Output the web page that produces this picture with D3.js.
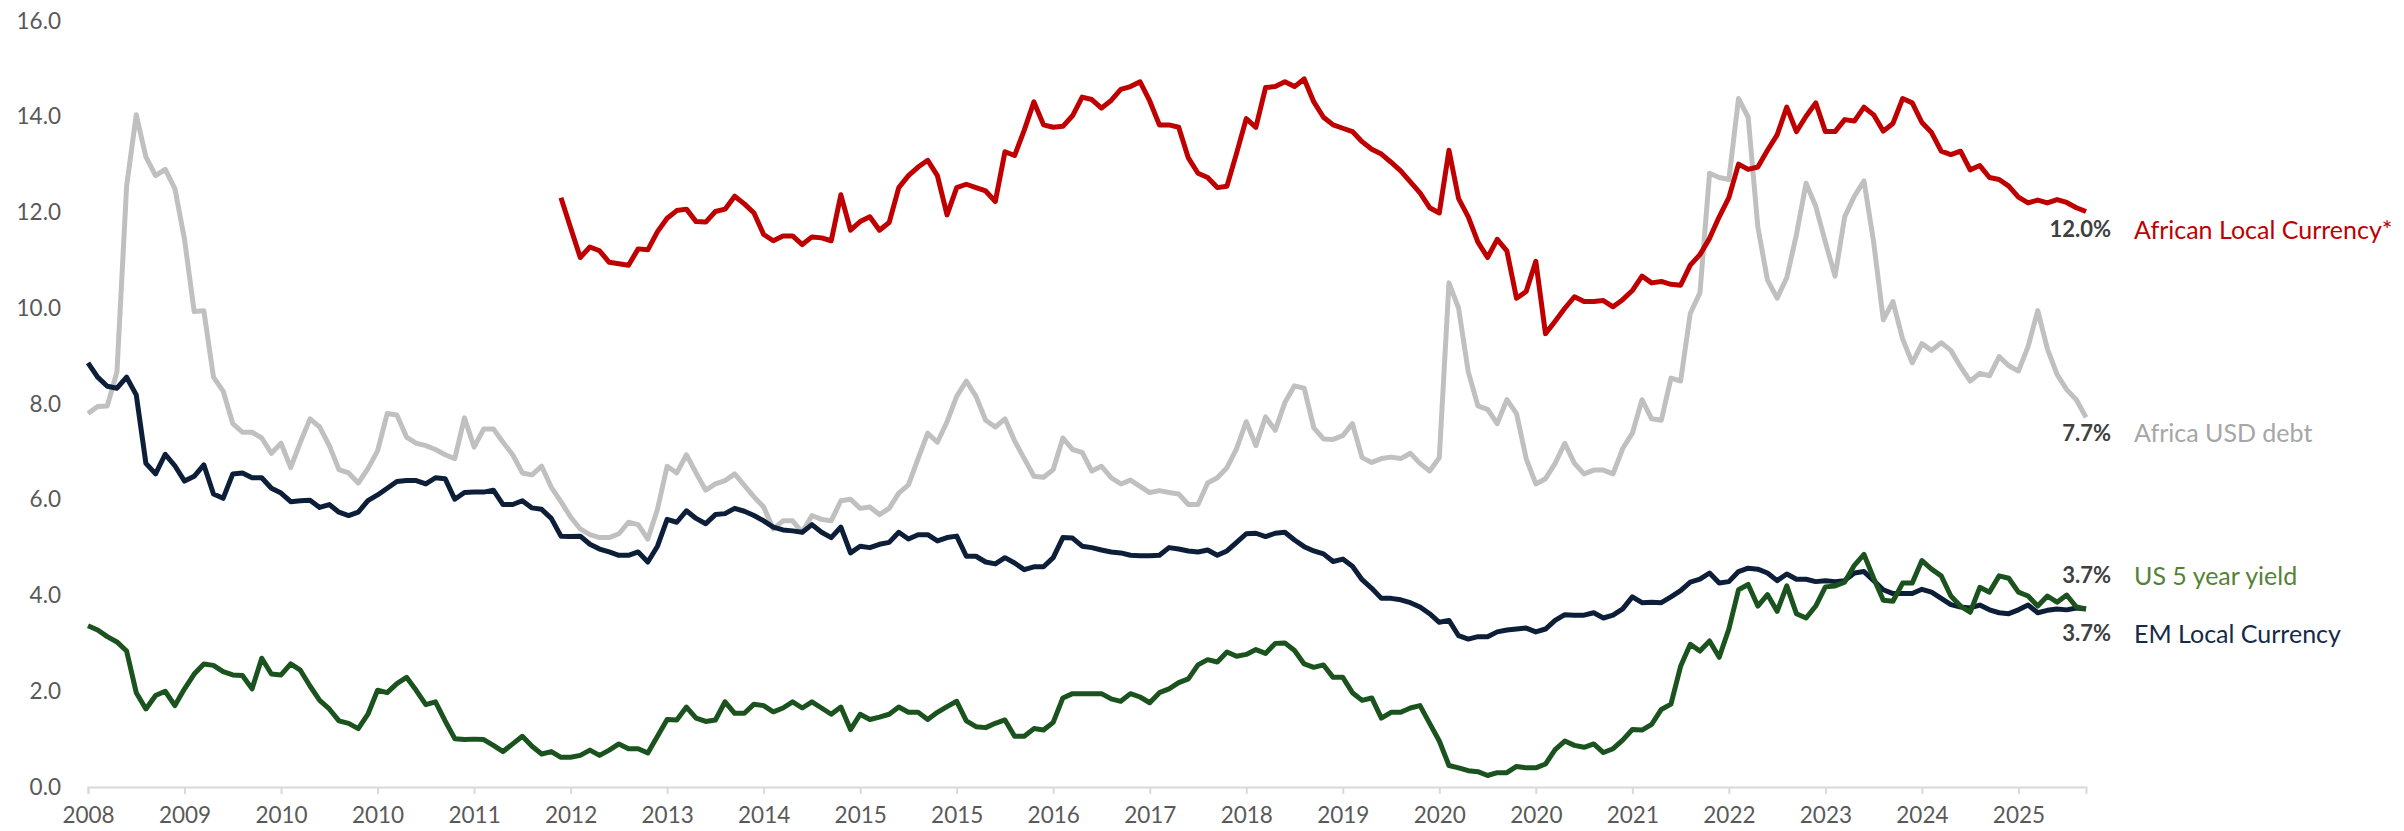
<!DOCTYPE html>
<html>
<head>
<meta charset="utf-8">
<script src="https://cdn.jsdelivr.net/npm/d3@7"></script>
<style>
  html, body { margin: 0; padding: 0; background: #fff; }
  svg { display: block; font-family: Lato, "Open Sans", sans-serif; }
</style>
</head>
<body>
<div id="chart"></div>
<script>
// monthly yields (%), first point ~May 2008, last ~Aug 2025
var tickLabels = ["2008","2009","2010","2010","2011","2012","2013","2014","2015","2015","2016",
                  "2017","2018","2019","2020","2020","2021","2022","2023","2024","2025"];
var tickEvery = 10; // one label every 10 months

var emLocal = [
  8.86, 8.56, 8.37, 8.33, 8.56, 8.19, 6.76, 6.54, 6.95, 6.71,
  6.39, 6.49, 6.73, 6.12, 6.03, 6.54, 6.56, 6.46, 6.46, 6.24,
  6.14, 5.96, 5.98, 5.99, 5.84, 5.90, 5.74, 5.67, 5.74, 5.98,
  6.10, 6.24, 6.38, 6.40, 6.40, 6.33, 6.46, 6.44, 6.01, 6.15,
  6.16, 6.16, 6.20, 5.90, 5.90, 5.98, 5.83, 5.80, 5.61, 5.24,
  5.23, 5.24, 5.07, 4.97, 4.91, 4.84, 4.84, 4.91, 4.70, 5.03,
  5.59, 5.53, 5.77, 5.61, 5.50, 5.69, 5.71, 5.82, 5.76, 5.67,
  5.56, 5.43, 5.37, 5.35, 5.32, 5.48, 5.32, 5.21, 5.43, 4.89,
  5.03, 5.00, 5.07, 5.11, 5.32, 5.18, 5.27, 5.27, 5.14, 5.21,
  5.24, 4.82, 4.82, 4.70, 4.66, 4.79, 4.68, 4.54, 4.60, 4.60,
  4.79, 5.21, 5.20, 5.03, 5.00, 4.95, 4.91, 4.89, 4.84, 4.83,
  4.83, 4.84, 5.00, 4.97, 4.93, 4.91, 4.95, 4.84, 4.93, 5.11,
  5.29, 5.30, 5.23, 5.30, 5.32, 5.16, 5.02, 4.93, 4.87, 4.71,
  4.76, 4.61, 4.33, 4.15, 3.94, 3.94, 3.91, 3.85, 3.76, 3.62,
  3.44, 3.48, 3.16, 3.09, 3.14, 3.14, 3.24, 3.28, 3.30, 3.32,
  3.24, 3.30, 3.48, 3.60, 3.59, 3.59, 3.64, 3.53, 3.59, 3.72,
  3.97, 3.85, 3.86, 3.85, 3.97, 4.10, 4.28, 4.34, 4.47, 4.26,
  4.29, 4.50, 4.57, 4.55, 4.47, 4.31, 4.45, 4.34, 4.34, 4.29,
  4.31, 4.29, 4.31, 4.47, 4.50, 4.31, 4.12, 4.04, 4.04, 4.04,
  4.13, 4.07, 3.94, 3.81, 3.76, 3.74, 3.80, 3.70, 3.64, 3.62,
  3.70, 3.80, 3.64, 3.69, 3.72, 3.70, 3.74, 3.72
];

var africaUsd = [
  7.80, 7.95, 7.96, 8.67, 12.55, 14.04, 13.16, 12.77, 12.90, 12.50,
  11.44, 9.93, 9.95, 8.56, 8.27, 7.59, 7.41, 7.41, 7.29, 6.97,
  7.18, 6.67, 7.20, 7.69, 7.52, 7.13, 6.63, 6.56, 6.35, 6.65,
  7.02, 7.80, 7.77, 7.31, 7.18, 7.13, 7.05, 6.94, 6.86, 7.71,
  7.10, 7.48, 7.48, 7.20, 6.94, 6.56, 6.52, 6.70, 6.26, 5.96,
  5.64, 5.39, 5.27, 5.21, 5.21, 5.29, 5.53, 5.48, 5.18, 5.80,
  6.70, 6.56, 6.94, 6.56, 6.20, 6.33, 6.40, 6.54, 6.30, 6.06,
  5.85, 5.39, 5.56, 5.56, 5.32, 5.67, 5.59, 5.56, 5.98, 6.01,
  5.82, 5.85, 5.69, 5.82, 6.14, 6.31, 6.86, 7.39, 7.20, 7.63,
  8.16, 8.48, 8.16, 7.66, 7.52, 7.69, 7.23, 6.86, 6.49, 6.47,
  6.63, 7.29, 7.05, 6.99, 6.60, 6.70, 6.46, 6.33, 6.41, 6.28,
  6.15, 6.19, 6.15, 6.12, 5.90, 5.90, 6.35, 6.46, 6.67, 7.07,
  7.63, 7.13, 7.73, 7.45, 8.03, 8.38, 8.33, 7.50, 7.27, 7.26,
  7.34, 7.59, 6.88, 6.78, 6.86, 6.89, 6.86, 6.97, 6.76, 6.60,
  6.88, 10.53, 10.00, 8.67, 7.96, 7.89, 7.59, 8.09, 7.80, 6.86,
  6.33, 6.44, 6.76, 7.18, 6.76, 6.54, 6.62, 6.62, 6.54, 7.07,
  7.39, 8.09, 7.69, 7.66, 8.54, 8.48, 9.89, 10.32, 12.82, 12.73,
  12.69, 14.38, 13.99, 11.70, 10.59, 10.21, 10.64, 11.54, 12.61, 12.13,
  11.38, 10.67, 11.91, 12.34, 12.66, 11.38, 9.76, 10.14, 9.36, 8.86,
  9.26, 9.12, 9.28, 9.12, 8.78, 8.48, 8.64, 8.59, 8.99, 8.80,
  8.69, 9.20, 9.95, 9.15, 8.62, 8.30, 8.09, 7.72
];

// African local currency series only starts at month 49 (late 2012)
var africaLocalFirst = 49;
var africaLocal = [
  12.31, 11.68, 11.06, 11.28, 11.20, 10.96, 10.93, 10.90, 11.24, 11.22, 11.60,
  11.88, 12.04, 12.07, 11.81, 11.80, 12.02, 12.07, 12.34, 12.18, 11.99,
  11.54, 11.41, 11.51, 11.51, 11.33, 11.49, 11.47, 11.41, 12.37, 11.63,
  11.81, 11.91, 11.63, 11.79, 12.52, 12.77, 12.95, 13.09, 12.77, 11.95,
  12.52, 12.59, 12.52, 12.45, 12.23, 13.27, 13.19, 13.72, 14.31, 13.83,
  13.78, 13.80, 14.02, 14.41, 14.36, 14.18, 14.34, 14.57, 14.63, 14.73,
  14.33, 13.83, 13.83, 13.78, 13.14, 12.82, 12.73, 12.52, 12.55, 13.24,
  13.96, 13.78, 14.61, 14.63, 14.73, 14.63, 14.79, 14.31, 13.99, 13.83,
  13.76, 13.69, 13.48, 13.32, 13.22, 13.05, 12.87, 12.64, 12.41, 12.10,
  11.99, 13.30, 12.29, 11.91, 11.38, 11.06, 11.44, 11.20, 10.21, 10.35,
  10.98, 9.47, 9.73, 10.00, 10.24, 10.14, 10.14, 10.16, 10.03, 10.18,
  10.37, 10.67, 10.53, 10.56, 10.50, 10.48, 10.90, 11.12, 11.46, 11.91,
  12.31, 13.01, 12.90, 12.95, 13.30, 13.62, 14.20, 13.69, 14.01, 14.29,
  13.69, 13.69, 13.94, 13.91, 14.20, 14.04, 13.70, 13.86, 14.38, 14.29,
  13.88, 13.67, 13.28, 13.21, 13.28, 12.89, 12.98, 12.73, 12.69, 12.55,
  12.32, 12.20, 12.26, 12.20, 12.27, 12.21, 12.10, 12.02
];

var us5y = [
  3.37, 3.28, 3.14, 3.03, 2.84, 1.97, 1.63, 1.91, 2.00, 1.70,
  2.05, 2.36, 2.57, 2.54, 2.41, 2.34, 2.33, 2.05, 2.69, 2.36,
  2.34, 2.57, 2.44, 2.11, 1.81, 1.63, 1.38, 1.33, 1.22, 1.52,
  2.02, 1.97, 2.16, 2.29, 2.02, 1.72, 1.78, 1.38, 1.01, 0.99,
  1.00, 0.99, 0.87, 0.74, 0.90, 1.06, 0.85, 0.69, 0.74, 0.62,
  0.62, 0.66, 0.77, 0.66, 0.77, 0.90, 0.80, 0.80, 0.71, 1.06,
  1.41, 1.40, 1.67, 1.44, 1.37, 1.40, 1.78, 1.54, 1.54, 1.73,
  1.70, 1.57, 1.65, 1.78, 1.65, 1.78, 1.65, 1.52, 1.67, 1.20,
  1.52, 1.41, 1.46, 1.52, 1.67, 1.56, 1.56, 1.41, 1.56, 1.68,
  1.79, 1.38, 1.26, 1.24, 1.33, 1.40, 1.06, 1.06, 1.22, 1.19,
  1.35, 1.86, 1.95, 1.95, 1.95, 1.95, 1.84, 1.79, 1.95, 1.88,
  1.76, 1.97, 2.05, 2.18, 2.26, 2.55, 2.66, 2.61, 2.82, 2.73,
  2.77, 2.87, 2.79, 3.00, 3.01, 2.85, 2.57, 2.50, 2.55, 2.29,
  2.29, 1.97, 1.81, 1.86, 1.44, 1.56, 1.56, 1.65, 1.70, 1.33,
  0.96, 0.45, 0.40, 0.34, 0.32, 0.24, 0.30, 0.30, 0.43, 0.40,
  0.40, 0.48, 0.78, 0.96, 0.87, 0.83, 0.90, 0.72, 0.80, 0.98,
  1.20, 1.19, 1.31, 1.62, 1.73, 2.52, 2.98, 2.84, 3.05, 2.71,
  3.30, 4.12, 4.23, 3.78, 4.02, 3.67, 4.20, 3.62, 3.53, 3.78,
  4.18, 4.20, 4.28, 4.63, 4.86, 4.36, 3.90, 3.88, 4.26, 4.26,
  4.73, 4.55, 4.41, 3.99, 3.78, 3.65, 4.17, 4.07, 4.41, 4.36,
  4.07, 3.99, 3.78, 3.99, 3.86, 4.01, 3.76, 3.72
];

var seriesNames = ["African Local Currency*", "Africa USD debt", "US 5 year yield", "EM Local Currency"];

function drawChart() {
  var width = 2404, height = 831;
  var n = emLocal.length;

  var svg = d3.select("#chart").append("svg")
    .attr("width", width)
    .attr("height", height);

  var x = d3.scaleLinear().domain([0, n - 1]).range([88, 2086]);
  var y = d3.scaleLinear().domain([0, 16]).range([787, 21]);

  // y labels only, no axis line
  var yAxis = svg.append("g")
    .attr("transform", "translate(61,0)")
    .call(d3.axisLeft(y).tickValues(d3.range(0, 17, 2)).tickFormat(d3.format(".1f")).tickSize(0).tickPadding(0));
  yAxis.select(".domain").remove();
  yAxis.selectAll("text")
    .attr("fill", "#595959")
    .style("font-size", "22.5px")
    .style("font-family", "Lato, sans-serif");

  var xAxis = svg.append("g")
    .attr("transform", "translate(0," + y(0) + ")")
    .call(d3.axisBottom(x)
      .tickValues(d3.range(0, n, tickEvery))
      .tickFormat(function(d, i) { return tickLabels[i]; })
      .tickSize(7).tickPadding(13));
  xAxis.select(".domain").attr("stroke", "#D9D9D9").attr("stroke-width", 2);
  xAxis.selectAll(".tick line").attr("stroke", "#D9D9D9").attr("stroke-width", 2);
  xAxis.selectAll("text")
    .attr("fill", "#595959")
    .style("font-size", "22.5px")
    .style("font-family", "Lato, sans-serif");

  var redData = africaLocal.map(function(v, j) { return [africaLocalFirst + j, v]; });
  var series = [
    {name: seriesNames[1], data: africaUsd.map(function(v, i) { return [i, v]; }), line: "#C0C0C0", text: "#A6A6A6", dy: 15},
    {name: seriesNames[3], data: emLocal.map(function(v, i) { return [i, v]; }), line: "#0D1F38", text: "#162A4A", dy: 24},
    {name: seriesNames[2], data: us5y.map(function(v, i) { return [i, v]; }), line: "#1B531E", text: "#548235", dy: -34},
    {name: seriesNames[0], data: redData, line: "#C00000", text: "#C00000", dy: 17}
  ];

  var line = d3.line()
    .x(function(d) { return x(d[0]); })
    .y(function(d) { return y(d[1]); });

  svg.append("g").selectAll("path")
    .data(series)
    .join("path")
    .attr("d", function(s) { return line(s.data); })
    .attr("fill", "none")
    .attr("stroke", function(s) { return s.line; })
    .attr("stroke-width", 5)
    .attr("stroke-linejoin", "round");

  // end labels: last value + series name
  var fmt = d3.format(".1f");
  var labels = svg.append("g").selectAll("g")
    .data(series)
    .join("g")
    .attr("transform", function(s) {
      var last = s.data[s.data.length - 1];
      return "translate(" + x(last[0]) + "," + (y(last[1]) + s.dy) + ")";
    });

  labels.append("text")
    .attr("x", 25)
    .attr("text-anchor", "end")
    .attr("dominant-baseline", "central")
    .attr("fill", "#404040")
    .style("font-weight", "bold")
    .style("font-size", "22px")
    .text(function(s) { return fmt(s.data[s.data.length - 1][1]) + "%"; });

  labels.append("text")
    .attr("x", 48)
    .attr("dominant-baseline", "central")
    .attr("fill", function(s) { return s.text; })
    .style("font-size", "25px")
    .text(function(s) { return s.name; });
}

drawChart();
</script>
</body>
</html>
